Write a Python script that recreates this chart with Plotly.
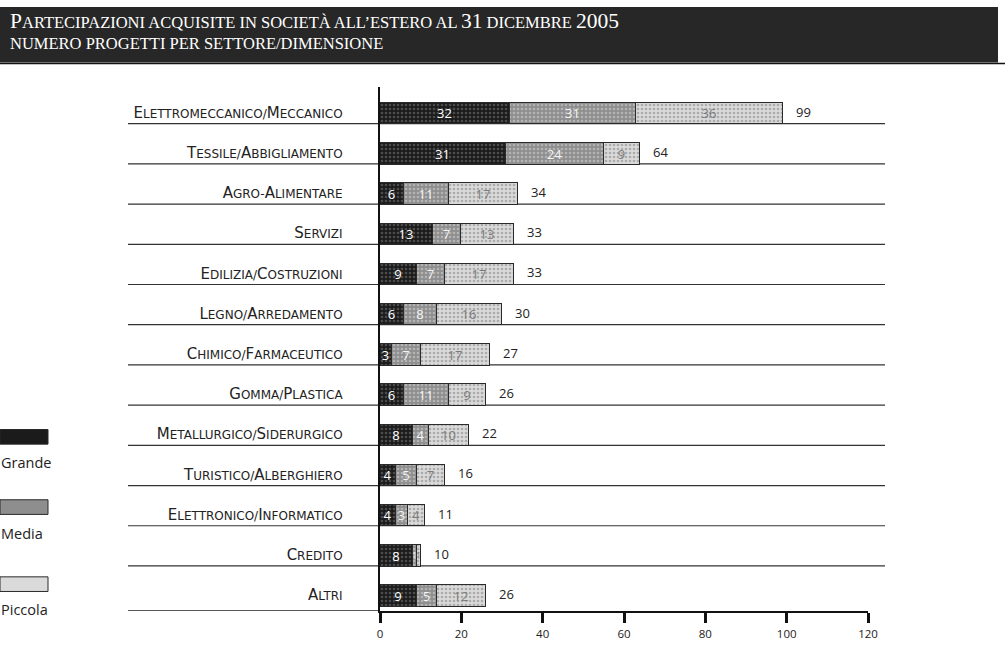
import plotly.graph_objects as go

categories = [
    "Elettromeccanico/Meccanico", "Tessile/Abbigliamento", "Agro-Alimentare",
    "Servizi", "Edilizia/Costruzioni", "Legno/Arredamento", "Chimico/Farmaceutico",
    "Gomma/Plastica", "Metallurgico/Siderurgico", "Turistico/Alberghiero",
    "Elettronico/Informatico", "Credito", "Altri",
]
grande = [32, 31, 6, 13, 9, 6, 3, 6, 8, 4, 4, 8, 9]
media = [31, 24, 11, 7, 7, 8, 7, 11, 4, 5, 3, 1, 5]
piccola = [36, 9, 17, 13, 17, 16, 17, 9, 10, 7, 4, 1, 12]
totals = [99, 64, 34, 33, 33, 30, 27, 26, 22, 16, 11, 10, 26]
series_names = ["Grande", "Media", "Piccola"]
x_ticks = [0, 20, 40, 60, 80, 100, 120]

title_line1 = "Partecipazioni acquisite in società all\u2019estero al 31 dicembre 2005"
title_line2 = "numero progetti per settore/dimensione"

W, H = 1005, 653
L, R, T, B = 380, 137, 87, 29
PW = W - L - R
PH = H - T - B


def px(x):
    return (x - L) / PW


def py(y):
    return (H - B - y) / PH


def small_caps(text, big, small, digits_big=True):
    """Emulate small caps: capitals (and digits) at big size, others uppercased at small size."""
    out = []
    cur_size = None
    buf = ""
    for ch in text:
        if ch.isupper() or (digits_big and ch.isdigit()):
            size = big
        else:
            size = small
        if size != cur_size and buf:
            out.append('<span style="font-size:%spx">%s</span>' % (cur_size, buf))
            buf = ""
        cur_size = size
        buf += ch.upper()
    if buf:
        out.append('<span style="font-size:%spx">%s</span>' % (cur_size, buf))
    return "".join(out)


idx = list(range(len(categories)))
Y_TOP, Y_BOTTOM = -0.663, 12.371

styles = {
    "Grande": dict(bg="#1b1b1b", fg="#4c4c4c", text="#ffffff"),
    "Media": dict(bg="#8e8e8e", fg="#b4b4b4", text="#f4f4f4"),
    "Piccola": dict(bg="#dadada", fg="#ababab", text="#7c7c7c"),
}

fig = go.Figure()
for name, vals in zip(series_names, [grande, media, piccola]):
    st = styles[name]
    fig.add_trace(go.Bar(
        y=idx, x=vals, orientation="h", name=name,
        width=0.534,
        text=[str(v) for v in vals],
        textposition="inside", insidetextanchor="middle", textangle=0,
        constraintext="none",
        textfont=dict(family="Open Sans", size=[13 if v > 1 else 9 for v in vals],
                      color=st["text"]),
        marker=dict(
            color=st["bg"],
            line=dict(color="#2a2a2a", width=1),
            pattern=dict(shape=".", bgcolor=st["bg"], fgcolor=st["fg"],
                         size=4, solidity=0.35, fillmode="replace"),
        ),
        showlegend=False, hoverinfo="skip",
    ))

shapes = []
# title band
shapes.append(dict(type="rect", xref="paper", yref="paper",
                   x0=px(0), x1=px(998), y0=py(62), y1=py(5),
                   fillcolor="#272727", line=dict(width=0), layer="below"))
shapes.append(dict(type="line", xref="paper", yref="paper",
                   x0=px(0), x1=px(1005), y0=py(63), y1=py(63),
                   line=dict(color="#111111", width=1.5)))
# row underlines
for i in idx[:-1]:
    shapes.append(dict(type="line", xref="paper", yref="y",
                       x0=px(128), x1=px(885), y0=i + 0.25, y1=i + 0.25,
                       line=dict(color="#333333", width=1.2), layer="below"))
shapes.append(dict(type="line", xref="paper", yref="y",
                   x0=px(128), x1=px(380), y0=Y_BOTTOM, y1=Y_BOTTOM,
                   line=dict(color="#222222", width=1.6), layer="below"))

# legend swatches
leg_pos = [(438, 472), (510, 545), (589, 622)]
for name, (sy, ty) in zip(series_names, leg_pos):
    st = styles[name]
    shapes.append(dict(type="rect", xref="paper", yref="paper",
                       x0=px(0), x1=px(48), y0=py(sy + 15), y1=py(sy),
                       fillcolor=st["bg"], line=dict(color="#2a2a2a", width=1)))

annotations = []
annotations.append(dict(xref="paper", yref="paper", x=px(8), y=py(19),
                        xanchor="left", yanchor="middle", showarrow=False,
                        text=small_caps(title_line1, 21.5, 16.5),
                        font=dict(family="Liberation Serif", size=16, color="#ffffff")))
annotations.append(dict(xref="paper", yref="paper", x=px(8), y=py(42),
                        xanchor="left", yanchor="middle", showarrow=False,
                        text=small_caps(title_line2, 21.5, 16.5),
                        font=dict(family="Liberation Serif", size=16, color="#ffffff")))
for i, t in zip(idx, totals):
    annotations.append(dict(x=t, y=i - 0.05, xref="x", yref="y", xanchor="left",
                            yanchor="middle", xshift=11, showarrow=False,
                            text=str(t),
                            font=dict(family="Open Sans", size=13, color="#222222")))
for name, (sy, ty) in zip(series_names, leg_pos):
    annotations.append(dict(xref="paper", yref="paper", x=px(-1), y=py(ty),
                            xanchor="left", yanchor="middle", showarrow=False,
                            text=name,
                            font=dict(family="Open Sans", size=14.5, color="#222222")))

fig.update_layout(
    width=W, height=H,
    margin=dict(l=L, r=R, t=T, b=B, pad=0),
    paper_bgcolor="#ffffff", plot_bgcolor="rgba(0,0,0,0)",
    barmode="stack", bargap=0,
    shapes=shapes, annotations=annotations,
    xaxis=dict(range=[0, 120], tickvals=x_ticks, ticktext=[str(v) for v in x_ticks],
               showgrid=False, zeroline=False, showline=True, linecolor="#111111",
               linewidth=2, ticks="outside", ticklen=10, tickwidth=2.5, tickcolor="#111111",
               ticklabelstandoff=1,
               tickfont=dict(family="Open Sans", size=11.5, color="#222222"),
               fixedrange=True),
    yaxis=dict(range=[Y_BOTTOM, Y_TOP], tickvals=idx,
               ticktext=[small_caps(c, 15, 12, digits_big=False) for c in categories],
               showgrid=False, zeroline=False, showline=True, linecolor="#111111",
               linewidth=2, ticks="", ticklabelstandoff=33,
               tickfont=dict(family="DejaVu Sans", size=12, color="#222222"),
               fixedrange=True),
)

fig.write_html(
    "out.html",
    config={"displayModeBar": False},
    post_script="document.body.style.margin='0';document.body.style.overflow='hidden';",
)
